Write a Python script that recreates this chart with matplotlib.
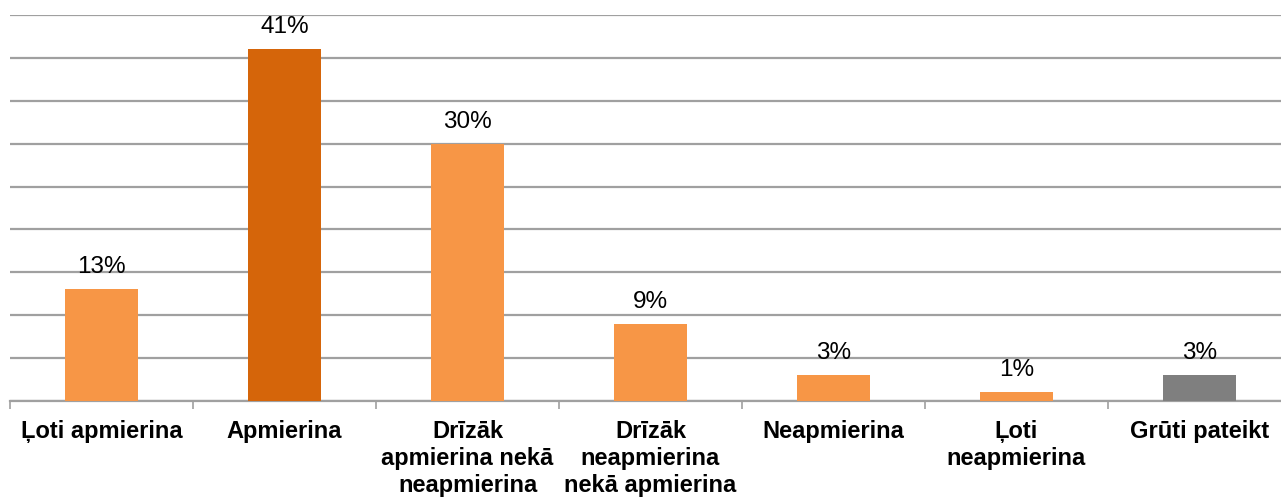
import matplotlib
matplotlib.use("Agg")
import matplotlib.pyplot as plt

categories = [
    "Ļoti apmierina",
    "Apmierina",
    "Drīzāk\napmierina nekā\nneapmierina",
    "Drīzāk\nneapmierina\nnekā apmierina",
    "Neapmierina",
    "Ļoti\nneapmierina",
    "Grūti pateikt",
]
values = [13, 41, 30, 9, 3, 1, 3]
labels = ["13%", "41%", "30%", "9%", "3%", "1%", "3%"]
colors = ["#F79646", "#D5650A", "#F79646", "#F79646", "#F79646", "#F79646", "#7F7F7F"]

plt.rcParams["font.family"] = ["Liberation Sans", "DejaVu Sans"]

W, H = 1281, 499
fig = plt.figure(figsize=(W / 100, H / 100), dpi=100)
ax = fig.add_axes([10 / W, 1 - 401 / H, 1281 / W, (401 - 15) / H])

x = list(range(len(categories)))
ax.bar(x, values, width=0.40, color=colors, zorder=3)
for xi, v, lab in zip(x, values, labels):
    ax.annotate(lab, (xi, v), xytext=(0, 8), textcoords="offset points",
                ha="center", va="bottom", fontsize=17.5, color="#000000")

ax.set_xlim(-0.5, len(categories) - 0.5)
ax.set_ylim(0, 45)
ax.set_yticks(range(0, 46, 5))
ax.yaxis.grid(True, color="#A0A0A0", linewidth=1.6, zorder=0)
ax.tick_params(axis="y", left=False, labelleft=False)
for s in ["left", "right", "top"]:
    ax.spines[s].set_visible(False)
ax.spines["bottom"].set_color("#A0A0A0")
ax.spines["bottom"].set_linewidth(1.6)

# category boundaries carry the ticks
ax.set_xticks([i - 0.5 for i in range(len(categories) + 1)], minor=False)
ax.set_xticklabels([])
ax.tick_params(axis="x", length=6, width=1.2, color="#A0A0A0")
ax.set_xticks(x, minor=True)
ax.set_xticklabels(categories, minor=True, fontsize=17, fontweight="bold",
                   linespacing=1.2, va="top")
ax.tick_params(axis="x", which="minor", length=0, pad=14)

fig.savefig("out.png", dpi=100)
